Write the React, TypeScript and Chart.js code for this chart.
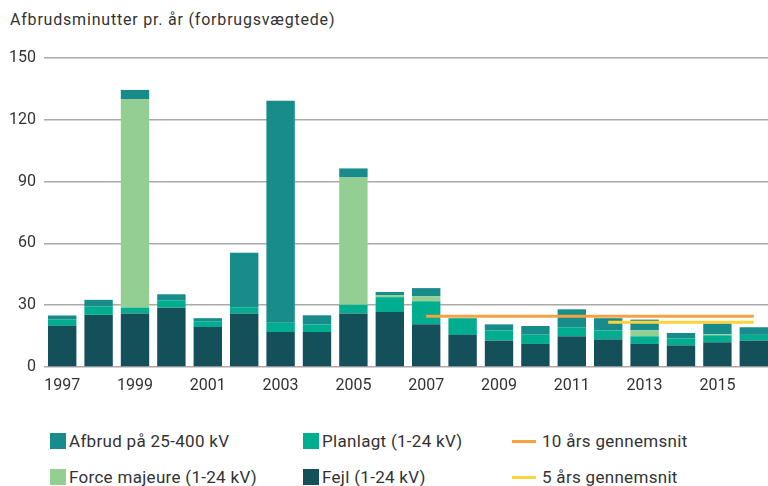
import React, { useEffect, useRef } from "react";
import { Chart, registerables } from "chart.js";

Chart.register(...registerables);

const years = ["1997","1998","1999","2000","2001","2002","2003","2004","2005","2006","2007","2008","2009","2010","2011","2012","2013","2014","2015","2016"];
const fejl = [20, 25.3, 26, 28.8, 19.4, 26, 17, 17, 26, 26.7, 20.8, 15.6, 12.8, 11.2, 14.9, 13.4, 11.2, 10.5, 12, 12.8];
const planlagt = [3, 4, 2.8, 3.6, 2.8, 3, 4.5, 3.7, 4.2, 7.2, 11.1, 8.1, 4.9, 4.5, 4.4, 4.3, 3.7, 3.4, 3.4, 2.8];
const forceMajeure = [0, 0, 101.3, 0, 0, 0, 0, 0, 61.8, 1, 2.5, 0, 0, 0, 0, 0, 2.9, 0, 0.5, 0];
const afbrud = [2, 3.3, 4.4, 2.9, 1.5, 26.5, 107.7, 4.4, 4.4, 1.5, 3.9, 0, 3, 4.2, 8.7, 6, 5.2, 2.6, 5.2, 3.7];
const avg10 = [null, null, null, null, null, null, null, null, null, null, 24.6, 24.6, 24.6, 24.6, 24.6, 24.6, 24.6, 24.6, 24.6, 24.6];
const avg5 = [null, null, null, null, null, null, null, null, null, null, null, null, null, null, null, 21.7, 21.7, 21.7, 21.7, 21.7];
const yTicks = [0, 30, 60, 90, 120, 150];

const C_AFBRUD = "#178c8a";
const C_PLAN = "#00ad8f";
const C_FM = "#93ce93";
const C_FEJL = "#14505a";
const C_10 = "#f7a241";
const C_5 = "#fdd23a";
const FONT = "Roboto, 'Noto Sans', sans-serif";
const TXT = "#333333";

export default function App() {
  const ref = useRef<HTMLCanvasElement | null>(null);

  useEffect(() => {
    if (!ref.current) return;
    const chart = new Chart(ref.current, {
      type: "bar",
      data: {
        labels: years,
        datasets: [
          { type: "line", label: "10 års gennemsnit", data: avg10 as any, borderColor: C_10, borderWidth: 3, pointRadius: 0, stack: "l10", order: 0, spanGaps: false },
          { type: "line", label: "5 års gennemsnit", data: avg5 as any, borderColor: C_5, borderWidth: 3, pointRadius: 0, stack: "l5", order: 0, spanGaps: false },
          { label: "Fejl (1-24 kV)", data: fejl, backgroundColor: C_FEJL, stack: "bars", order: 1 },
          { label: "Planlagt (1-24 kV)", data: planlagt, backgroundColor: C_PLAN, stack: "bars", order: 1 },
          { label: "Force majeure (1-24 kV)", data: forceMajeure, backgroundColor: C_FM, stack: "bars", order: 1 },
          { label: "Afbrud på 25-400 kV", data: afbrud, backgroundColor: C_AFBRUD, stack: "bars", order: 1 },
        ] as any,
      },
      options: {
        responsive: false,
        animation: false,
        devicePixelRatio: 1,
        layout: { padding: { top: 58, right: 4, left: 0, bottom: 0 } },
        datasets: { bar: { barPercentage: 0.78, categoryPercentage: 1 } },
        plugins: { legend: { display: false }, tooltip: { enabled: false }, title: { display: false } },
        scales: {
          x: {
            stacked: true,
            grid: { display: false, drawTicks: false },
            border: { display: false },
            ticks: {
              autoSkip: false,
              maxRotation: 0,
              padding: 9,
              color: TXT,
              font: { family: FONT, size: 16 },
              callback: (_v: any, i: number) => (i % 2 === 0 ? years[i] : ""),
            },
            afterFit: (s: any) => { s.height = 33; },
          },
          y: {
            stacked: true,
            min: 0,
            max: 150,
            afterBuildTicks: (s: any) => { s.ticks = yTicks.map((v) => ({ value: v })); },
            grid: { color: "#aaaaaa", lineWidth: 1.5, drawTicks: false },
            border: { display: false },
            ticks: { padding: 8, color: TXT, font: { family: FONT, size: 16 } },
            afterFit: (s: any) => { s.width = 44; },
          },
        },
      } as any,
    });
    return () => chart.destroy();
  }, []);

  const legendItem = (left: number, centerY: number, label: string, color: string, line: boolean) => (
    <div key={label} style={{ position: "absolute", left, top: centerY - 11, height: 22, display: "flex", alignItems: "center", fontFamily: FONT, fontSize: 17, letterSpacing: 0.3, color: TXT, whiteSpace: "nowrap" }}>
      {line ? (
        <span style={{ display: "inline-block", width: 24, height: 3, background: color, marginRight: 6 }} />
      ) : (
        <span style={{ display: "inline-block", width: 16, height: 16, background: color, marginRight: 3 }} />
      )}
      {label}
    </div>
  );

  return (
    <div style={{ position: "fixed", left: 0, top: 0, width: 768, height: 486, overflow: "hidden", background: "#fff" }}>
      <div style={{ position: "absolute", left: 10, top: 10, fontFamily: FONT, fontSize: 16, letterSpacing: 0.8, color: TXT, whiteSpace: "nowrap" }}>
        Afbrudsminutter pr. år (forbrugsvægtede)
      </div>
      <canvas ref={ref} width={776} height={400} style={{ position: "absolute", left: 0, top: 0, width: 776, height: 400 }} />
      {legendItem(50, 441, "Afbrud på 25-400 kV", C_AFBRUD, false)}
      {legendItem(50, 477, "Force majeure (1-24 kV)", C_FM, false)}
      {legendItem(303, 441, "Planlagt (1-24 kV)", C_PLAN, false)}
      {legendItem(303, 477, "Fejl (1-24 kV)", C_FEJL, false)}
      {legendItem(512, 441, "10 års gennemsnit", C_10, true)}
      {legendItem(512, 477, "5 års gennemsnit", C_5, true)}
    </div>
  );
}
